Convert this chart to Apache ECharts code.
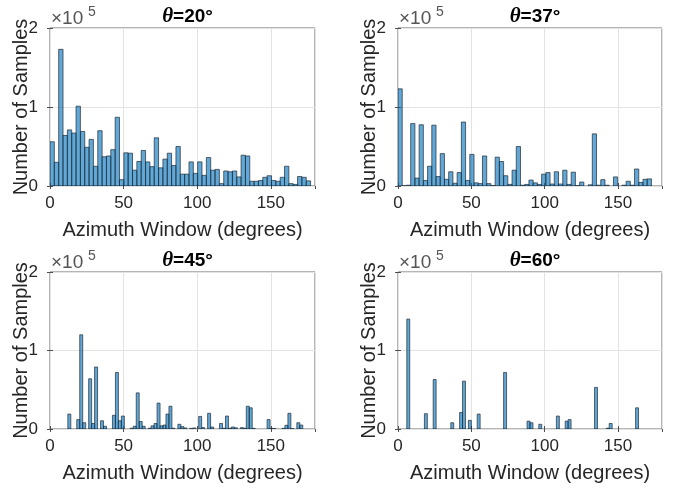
<!DOCTYPE html>
<html><head><meta charset="utf-8">
<script src="https://cdn.jsdelivr.net/npm/echarts@6/dist/echarts.min.js"></script>
<style>html,body{margin:0;padding:0;background:#fff}#c{width:676px;height:488px}</style>
</head><body><div id="c"></div>
<script>
// ---- data ----
const thetaLabels = ['20°', '37°', '45°', '60°'];
const binWidths = [2.95, 2.88, 2.02, 2.0];   // degrees per histogram bin, bins start at 0
const counts20 = [56000,30000,173000,64000,71000,67000,101000,69000,49000,59000,
  25000,70000,37000,38000,46000,87000,8000,42000,41500,20000,
  31000,45000,30500,24500,61000,23000,34000,41500,26000,50000,
  15000,15000,30500,16000,30500,13500,36000,20000,21000,3000,
  19000,18000,19000,11500,39000,38000,6000,6000,7000,11000,
  13000,7000,6000,11000,25000,3000,2000,12000,11000,6500];
const counts37 = [123000,300,1000,79000,10000,77500,7000,25000,77000,12000,
  41000,8500,18000,3500,17000,81000,7000,40000,4000,3000,
  38000,3000,500,36500,31000,13000,2000,20000,50000,1000,
  2000,7500,4000,2000,15000,17000,2500,18000,2500,20000,
  2000,17500,500,5000,0,1500,66000,1000,8000,1000,
  0,11500,0,1000,6000,1000,21500,4500,8500,9000];
const counts45 = [0,0,0,0,0,0,19000,0,0,12000,
  120000,8000,0,64000,7000,79000,0,10500,3500,0,
  0,17500,72000,10500,16500,0,0,1000,3500,46000,
  9500,3500,0,1000,4000,7000,33000,4000,5000,19000,
  29000,1000,0,6000,3000,1300,0,800,1300,0,
  16000,1700,0,20000,2500,0,0,7000,1000,16500,
  1000,2500,1500,0,1700,1000,29000,27000,800,0,
  0,0,0,12000,800,500,0,0,800,4700,
  20000,500,0,8000,5000];
const counts60 = [0,0,0,140000,0,0,0,0,0,19500,
  0,0,63000,0,0,0,0,0,8000,0,
  0,21000,61000,0,11000,0,0,19000,0,0,
  0,0,0,0,0,0,72000,0,0,0,
  0,0,0,0,10000,8000,0,0,6000,0,
  0,0,0,0,16500,0,0,10000,12000,0,
  0,0,0,0,0,0,0,53000,0,0,
  0,1000,7000,0,0,0,0,0,0,0,
  0,27000];
const allCounts = [counts20, counts37, counts45, counts60];
const xMin = 0, xMax = 180, xInterval = 50;
const yMin = 0, yMax = 200000, yInterval = 100000;
const xLabel = 'Azimuth Window (degrees)';
const yLabel = 'Number of Samples';

// ---- layout ----
const layout = [
  {left: 50, top: 28, width: 265, height: 158},
  {left: 398, top: 28, width: 264, height: 158},
  {left: 50, top: 272, width: 265, height: 157},
  {left: 398, top: 272, width: 264, height: 157}
];
const txt = '#262626';
const sans = 'Liberation Sans';

const grids = [], xAxes = [], yAxes = [], series = [], titles = [], graphics = [];
layout.forEach((g, i) => {
  grids.push({left: g.left, top: g.top, width: g.width, height: g.height,
    show: true, borderColor: '#6b6b6b', borderWidth: 1, backgroundColor: '#fff'});
  const tick = {show: true, inside: true, length: 3, lineStyle: {color: '#4d4d4d', width: 1}};
  xAxes.push({gridIndex: i, type: 'value', min: xMin, max: xMax, interval: xInterval, position: 'bottom',
    axisLine: {show: false}, axisTick: tick,
    axisLabel: {show: true, margin: 9, fontSize: 17, fontFamily: sans, color: txt, showMaxLabel: false},
    splitLine: {show: true, lineStyle: {color: '#e3e3e3', width: 1}},
    name: xLabel, nameLocation: 'middle', nameGap: 34, nameMoveOverlap: false,
    nameTextStyle: {fontSize: 20, fontFamily: sans, color: txt}});
  xAxes.push({gridIndex: i, type: 'value', min: xMin, max: xMax, interval: xInterval, position: 'top',
    axisLine: {show: false}, axisTick: tick, axisLabel: {show: false}, splitLine: {show: false}});
  yAxes.push({gridIndex: i, type: 'value', min: yMin, max: yMax, interval: yInterval, position: 'left',
    axisLine: {show: false}, axisTick: tick,
    axisLabel: {show: true, margin: 12, fontSize: 17, fontFamily: sans, color: txt,
      formatter: v => String(v / 100000)},
    splitLine: {show: true, lineStyle: {color: '#e3e3e3', width: 1}},
    name: yLabel, nameLocation: 'middle', nameGap: 19, nameMoveOverlap: false,
    nameTextStyle: {fontSize: 20, fontFamily: sans, color: txt}});
  yAxes.push({gridIndex: i, type: 'value', min: yMin, max: yMax, interval: yInterval, position: 'right',
    axisLine: {show: false}, axisTick: tick, axisLabel: {show: false}, splitLine: {show: false}});

  const w = binWidths[i];
  const data = allCounts[i].map((c, k) => [k * w, (k + 1) * w, c]).filter(d => d[2] > 0);
  series.push({
    type: 'custom', xAxisIndex: 2 * i, yAxisIndex: 2 * i, clip: true,
    encode: {x: [0, 1], y: 2},
    data: data,
    renderItem: (params, api) => {
      const p0 = api.coord([api.value(0), api.value(2)]);
      const p1 = api.coord([api.value(1), 0]);
      return {type: 'rect',
        shape: {x: p0[0], y: p0[1], width: p1[0] - p0[0], height: p1[1] - p0[1]},
        style: {fill: 'rgba(0,114,189,0.62)', stroke: '#1f2a33', lineWidth: 0.7}};
    }
  });

  titles.push({
    text: '{t|θ}{n|=' + thetaLabels[i] + '}',
    left: g.left + g.width / 2, top: g.top - 27, textAlign: 'center',
    textStyle: {rich: {
      t: {fontFamily: 'Liberation Serif', fontStyle: 'italic', fontWeight: 'bold', fontSize: 21, color: '#000'},
      n: {fontFamily: sans, fontWeight: 'bold', fontSize: 19, color: '#000'}
    }}
  });

  graphics.push({type: 'text', left: g.left + 1, top: g.top - 19,
    style: {text: '×10', fontSize: 19, fontFamily: sans, fill: '#555555'}});
  graphics.push({type: 'text', left: g.left + 38, top: g.top - 23,
    style: {text: '5', fontSize: 14, fontFamily: sans, fill: '#555555'}});
});

const chart = echarts.init(document.getElementById('c'), null, {renderer: 'canvas'});
chart.setOption({
  animation: false,
  backgroundColor: '#fff',
  title: titles,
  grid: grids,
  xAxis: xAxes,
  yAxis: yAxes,
  series: series,
  graphic: graphics
});
</script></body></html>
